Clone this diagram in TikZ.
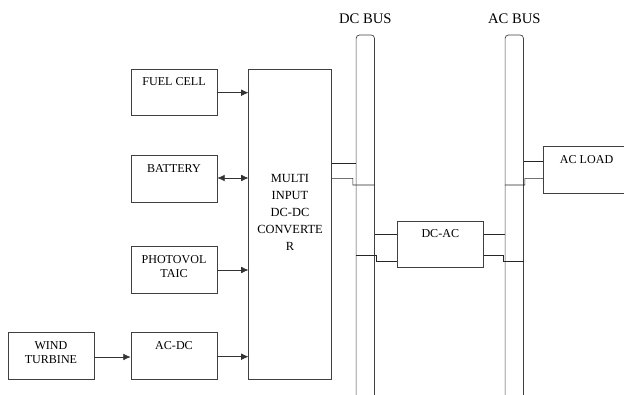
\documentclass[tikz,border=0pt]{standalone}
\usepackage{fontspec}
\setmainfont{Liberation Serif}
\usetikzlibrary{positioning,arrows.meta}

\begin{document}
\begin{tikzpicture}[
    x=0.03cm, y=-0.03cm,
    font=\fontsize{10.3}{12}\selectfont,
    blk/.style={draw=black!75, line width=0.6pt, minimum width=2.58cm, minimum height=1.4cm, inner sep=0pt},
    txt/.style={label={[anchor=north, yshift=-1.4mm, align=center]north:#1}},
    bus/.style={draw=black!75, line width=0.6pt, rounded corners=1mm, minimum width=0.55cm, minimum height=11.55cm, inner sep=0pt},
    buslabel/.style={label distance=2.1mm, font=\fontsize{12.5}{14}\selectfont},
    wire/.style={draw=black!85, line width=0.5pt},
    line/.style={draw=black!80, line width=0.6pt, -{Latex[length=2.2mm,width=2mm]}}
]
    \useasboundingbox (0,0) rectangle (624,394);
    \clip (0,0) rectangle (624,394);

    % Sources
    \node[blk, txt={FUEL CELL}] (fuel) at (174,92.5) {};
    \node[blk, txt={BATTERY}] (batt) at (174,179) {};
    \node[blk, txt={PHOTOVOL\\TAIC}] (pv) at (174,270) {};
    \node[blk, txt={AC-DC}] (acdc) at (174,356) {};
    \node[blk, txt={WIND\\TURBINE}, left=1.09cm of acdc] (wind) {};

    % Converter and buses
    \node[blk, minimum width=2.47cm, minimum height=9.29cm] (multi) at (290,224.2) {};
    \node[align=center, font=\fontsize{10.6}{14.5}\selectfont] (multitxt) at (290,212) {MULTI\\INPUT\\DC-DC\\CONVERTE\\R};
    \node[bus, label={[buslabel]above:DC BUS}] (dcbus) at (365.3,227.5) {};
    \node[bus, label={[buslabel]above:AC BUS}] (acbus) at (514.3,227.5) {};
    \node[blk, txt={DC-AC}] (dcac) at (440.3,244.3) {};
    \node[blk, txt={AC LOAD}] (load) at (586.6,170) {};

    % Connections
    \draw[line] (fuel.east |- 0,92.7) -- (multi.west |- 0,92.7);
    \draw[line, {Latex[length=2.2mm,width=2mm]}-{Latex[length=2.2mm,width=2mm]}] (batt.east |- 0,178) -- (multi.west |- 0,178);
    \draw[line] (pv.east |- 0,270) -- (multi.west |- 0,270);
    \draw[line] (acdc.east |- 0,356.7) -- (multi.west |- 0,356.7);
    \draw[line] (wind.east |- 0,357) -- (acdc.west |- 0,357);

    \draw[wire] (multi.east |- 0,163.3) -- (dcbus.west |- 0,163.3);
    \draw[wire] (multi.east |- 0,178.3) -- ++(21.3,0) -- ++(0,6.7) -- (dcbus.east |- 0,185);
    \draw[wire] (dcbus.east |- 0,234.3) -- (dcac.west |- 0,234.3);
    \draw[wire] (dcbus.west |- 0,255) -- ++(20.7,0) -- ++(0,6.7) -- (dcac.west |- 0,261.7);
    \draw[wire] (dcac.east |- 0,234.3) -- (acbus.west |- 0,234.3);
    \draw[wire] (dcac.east |- 0,255) -- ++(20,0) -- ++(0,6.7) -- (acbus.east |- 0,261.7);
    \draw[wire] (acbus.east |- 0,161.7) -- (load.west |- 0,161.7);
    \draw[wire] (load.west |- 0,178.3) -- ++(-18.3,0) -- ++(0,6.7) -- (acbus.west |- 0,185);
\end{tikzpicture}
\end{document}
